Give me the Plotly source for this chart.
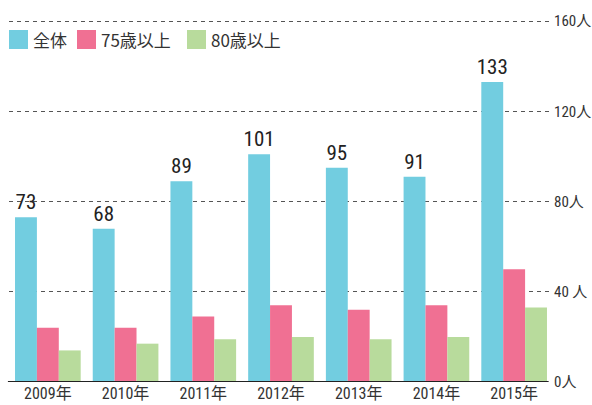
import plotly.graph_objects as go

years = ["2009年", "2010年", "2011年", "2012年", "2013年", "2014年", "2015年"]
total = [73, 68, 89, 101, 95, 91, 133]
over75 = [24, 24, 29, 34, 32, 34, 50]
over80 = [14, 17, 19, 20, 19, 20, 33]
series_names = ["全体", "75歳以上", "80歳以上"]
colors = ["#72cde0", "#f07093", "#b8db9c"]
tick_vals = [0, 40, 80, 120, 160]
tick_text = ["0人", "40 人", "80人", "120人", "160人"]

NUM_FONT = "Roboto Condensed, DejaVu Sans Condensed, Noto Sans CJK JP"
JP_FONT = "Noto Sans CJK JP"

fig = go.Figure()
fig.add_bar(x=years, y=total, name=series_names[0], marker_color=colors[0],
            text=total, textposition="outside", cliponaxis=False, constraintext="none",
            textfont=dict(family=NUM_FONT, size=21, color="#222"))
fig.add_bar(x=years, y=over75, name=series_names[1], marker_color=colors[1])
fig.add_bar(x=years, y=over80, name=series_names[2], marker_color=colors[2])

fig.update_layout(
    width=592, height=405,
    margin=dict(l=9, r=39, t=20, b=23),
    paper_bgcolor="white", plot_bgcolor="white",
    barmode="group", bargap=0.155, bargroupgap=0,
    showlegend=False,
    font=dict(family=NUM_FONT, color="#333"),
)
fig.update_traces(marker_line_width=0)
fig.update_xaxes(showgrid=False, showline=False, ticks="", automargin=False,
                 tickfont=dict(family=NUM_FONT, size=16, color="#333"))
fig.update_yaxes(range=[0, 160.5], side="right", tickvals=tick_vals, ticktext=tick_text,
                 showgrid=True, gridcolor="#555", griddash="4px,4px", gridwidth=1,
                 zeroline=False, showline=False, ticks="", automargin=False,
                 tickfont=dict(family=NUM_FONT, size=15, color="#333"))

# baseline
fig.add_shape(type="line", xref="paper", yref="y", x0=-0.002, x1=0.992, y0=0, y1=0,
              line=dict(color="#222", width=2), layer="above")

# custom legend
H = 362
leg_x = [0, 68, 178]
for i, (name, c) in enumerate(zip(series_names, colors)):
    x0 = leg_x[i]
    fig.add_shape(type="rect", xref="x domain", yref="paper",
                  x0=x0 / 544, x1=(x0 + 19) / 544, y0=1 - (49 - 20) / H, y1=1 - (30 - 20) / H,
                  fillcolor=c, line_width=0)
    fig.add_annotation(xref="x domain", yref="paper", x=(x0 + 22) / 544, y=1 - (39.5 - 20) / H,
                       text=name, showarrow=False, xanchor="left", yanchor="middle",
                       font=dict(family=JP_FONT, size=17, color="#333"))

fig.write_html("out.html", config={"displayModeBar": False},
               post_script="document.body.style.margin='0';")
